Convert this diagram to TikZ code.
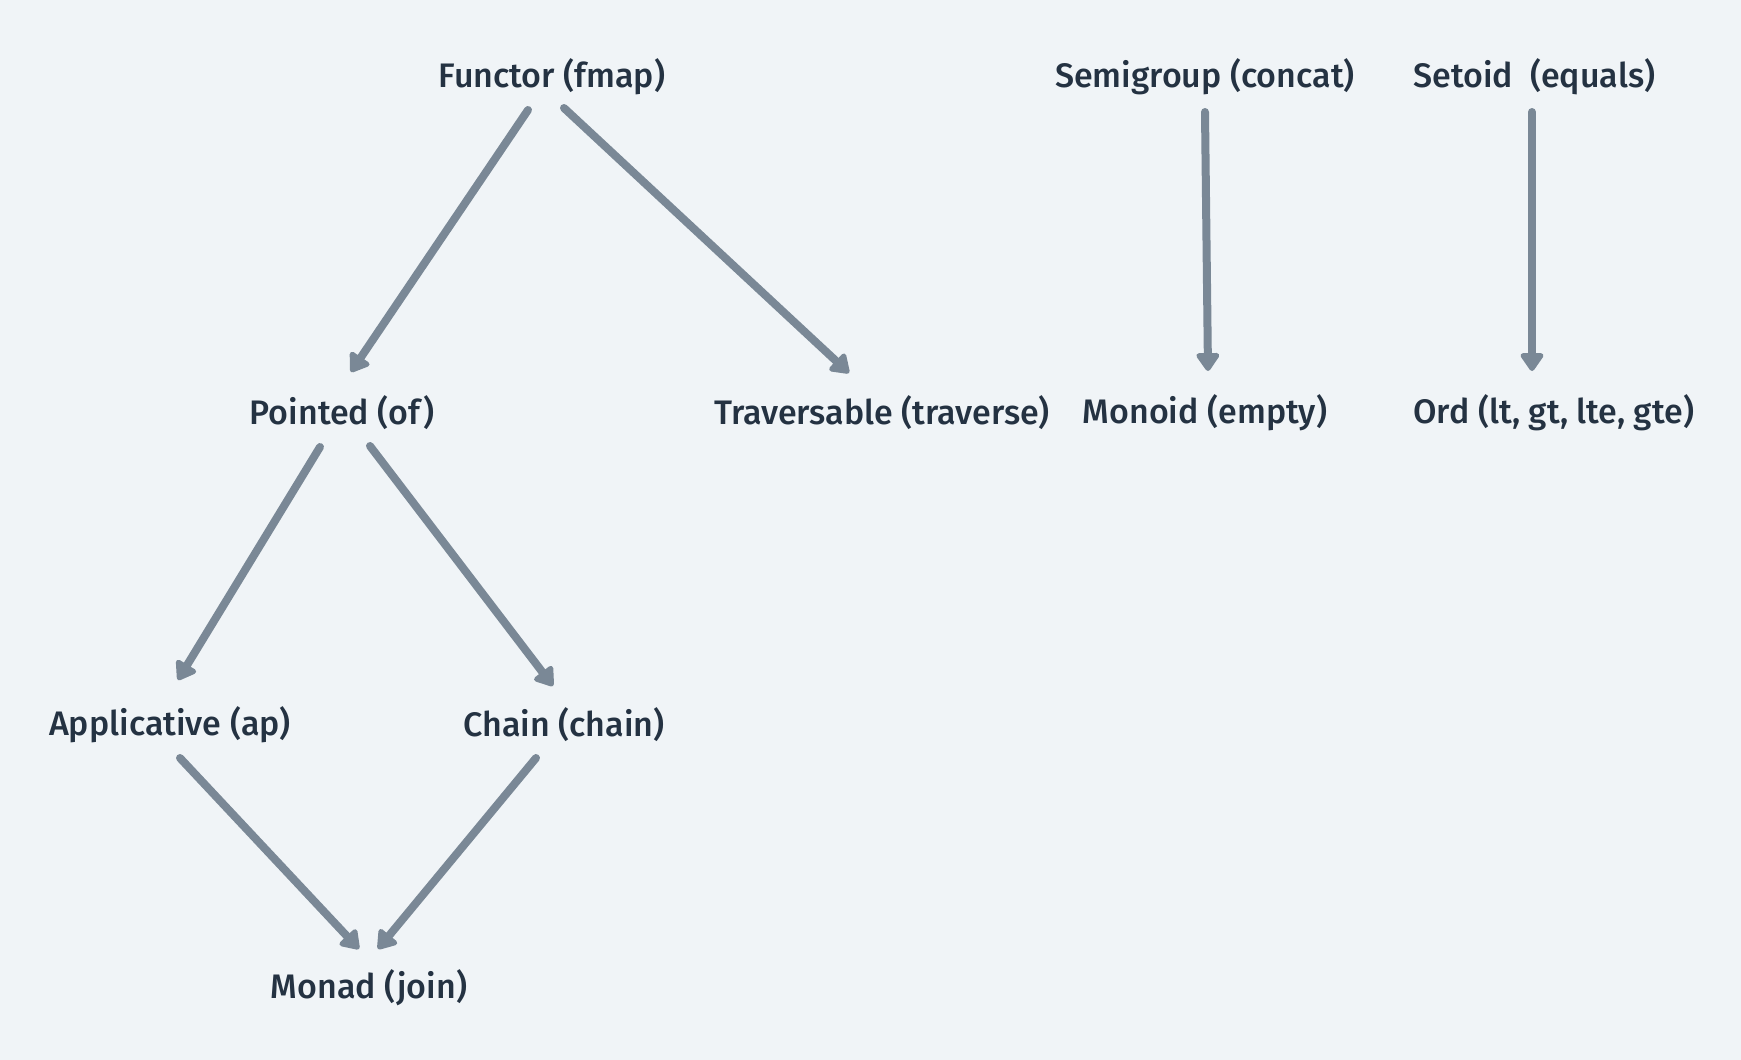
\documentclass[tikz,border=0pt]{standalone}
\usepackage{fontspec}
\setmainfont{Fira Sans}[UprightFont={* Medium}]
\usetikzlibrary{arrows.meta}
\definecolor{PageBg}{RGB}{240,244,247}
\definecolor{TextNavy}{RGB}{36,50,66}
\definecolor{EdgeGray}{RGB}{122,136,150}
\begin{document}
\begin{tikzpicture}[x=0.5pt, y=-0.5pt,
    lbl/.style={text=TextNavy, font=\fontsize{17}{19}\selectfont, inner sep=0pt},
    edge/.style={draw=EdgeGray, line width=4pt, line cap=round,
      -{Triangle[length=10pt, width=13pt, round]}}]
  \fill[PageBg] (0,0) rectangle (1741,1060);
  \useasboundingbox (0,0) rectangle (1741,1060);
  % type classes
  \node[lbl] (functor) at (552,77) {Functor (fmap)};
  \node[lbl] (semigroup) at (1205,77) {Semigroup (concat)};
  \node[lbl, anchor=west] (setoid) at (1413,77) {Setoid\ \ (equals)};
  \node[lbl] (pointed) at (342,413) {Pointed (of)};
  \node[lbl] (traversable) at (882,413) {Traversable (traverse)};
  \node[lbl] (monoid) at (1205,413) {Monoid (empty)};
  \node[lbl, anchor=west] (ord) at (1413,413) {Ord (lt, gt, lte, gte)};
  \node[lbl] (applicative) at (170,725) {Applicative (ap)};
  \node[lbl] (chain) at (564,725) {Chain (chain)};
  \node[lbl] (monad) at (369,988) {Monad (join)};
  % arrows
  \draw[edge] ([shift={(-24,33)}]functor.center) -- ([shift={(9,-41)}]pointed.center);
  \draw[edge] ([shift={(12,31)}]functor.center) -- ([shift={(-33,-40)}]traversable.center);
  \draw[edge] ([shift={(0,35)}]semigroup.center) -- ([shift={(3,-42)}]monoid.center);
  \draw[edge] ([shift={(119,35)}]setoid.west) -- ([shift={(119,-42)}]ord.west);
  \draw[edge] ([shift={(-22,34)}]pointed.center) -- ([shift={(8,-45)}]applicative.center);
  \draw[edge] ([shift={(28,33)}]pointed.center) -- ([shift={(-11,-39)}]chain.center);
  \draw[edge] ([shift={(10,33)}]applicative.center) -- ([shift={(-10,-39)}]monad.center);
  \draw[edge] ([shift={(-28,33)}]chain.center) -- ([shift={(9,-39)}]monad.center);
\end{tikzpicture}
\end{document}
